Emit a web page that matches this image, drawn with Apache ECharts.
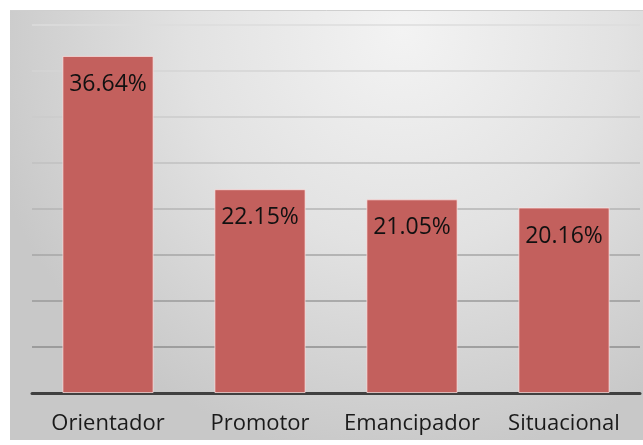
<!DOCTYPE html>
<html>
<head>
<meta charset="utf-8">
<script src="https://cdn.jsdelivr.net/npm/echarts@6/dist/echarts.min.js"></script>
<style>html,body{margin:0;padding:0;background:#fff}#c{width:643px;height:445px}</style>
</head>
<body>
<div id="c"></div>
<script>
const categories = ['Orientador', 'Promotor', 'Emancipador', 'Situacional'];
const values = [36.64, 22.15, 21.05, 20.16];
const labels = ['36.64%', '22.15%', '21.05%', '20.16%'];
const yTicks = [0, 5, 10, 15, 20, 25, 30, 35, 40];
const gridColors = ['#666666', '#8e8e8e', '#9a9a9a', '#a6a6a6', '#b4b4b4', '#c0c0c0', '#cbcbcb', '#d5d5d5', '#dddddd'];

const chart = echarts.init(document.getElementById('c'), null, {renderer: 'canvas'});
chart.setOption({
  animation: false,
  backgroundColor: '#ffffff',
  graphic: [
    {
      type: 'rect', z: -10, silent: true,
      shape: {x: 10, y: 10, width: 633, height: 430},
      style: {
        fill: new echarts.graphic.RadialGradient(0.62, 0.05, 1.0, [
          {offset: 0, color: '#f3f3f3'},
          {offset: 0.5, color: '#e2e2e2'},
          {offset: 1, color: '#c8c8c8'}
        ])
      }
    },
    {
      type: 'line', z: -9, silent: true,
      shape: {x1: 10, y1: 10.5, x2: 643, y2: 10.5},
      style: {stroke: '#cfcfcf', lineWidth: 1}
    }
  ],
  grid: {left: 32, right: 3, top: 25, bottom: 52},
  xAxis: {
    type: 'category',
    data: categories,
    axisTick: {show: false},
    axisLine: {lineStyle: {color: '#404040', width: 3}},
    axisLabel: {interval: 0, color: '#1a1a1a', fontSize: 22, fontFamily: 'Open Sans', margin: 20}
  },
  yAxis: {
    type: 'value',
    min: yTicks[0],
    max: yTicks[yTicks.length - 1],
    interval: 5,
    axisLabel: {show: false},
    axisLine: {show: false},
    axisTick: {show: false},
    splitLine: {lineStyle: {color: gridColors, width: 1.5}}
  },
  series: [{
    type: 'bar',
    data: values,
    barWidth: '60%',
    itemStyle: {color: '#c3605d', borderColor: 'rgba(255,230,230,0.7)', borderWidth: 1},
    label: {
      show: true,
      position: 'insideTop',
      distance: 17,
      color: '#111111',
      fontSize: 23,
      fontFamily: 'Open Sans',
      formatter: p => labels[p.dataIndex]
    }
  }]
});
</script>
</body>
</html>
